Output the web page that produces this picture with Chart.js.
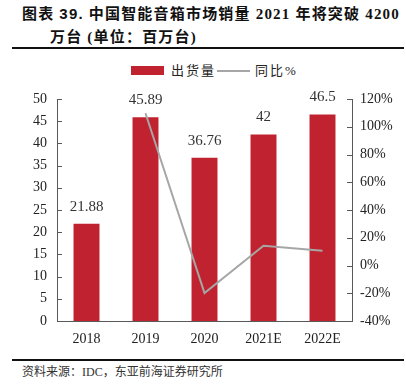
<!DOCTYPE html>
<html>
<head>
<meta charset="utf-8">
<script src="https://cdn.jsdelivr.net/npm/chart.js@4.4.0/dist/chart.umd.min.js"></script>
<style>
  html, body { margin: 0; padding: 0; background: #fff; }
  body { width: 406px; height: 388px; position: relative; overflow: hidden; }
  .title {
    position: absolute; left: 22px; font-weight: bold; font-size: 15px; line-height: 22px;
    font-family: 'Liberation Serif', 'Noto Sans CJK SC', serif; color: #111; white-space: nowrap;
    letter-spacing: 1.2px;
  }
  .title .num { font-family: 'Liberation Sans', sans-serif; }
  .rule { position: absolute; left: 12px; right: 2px; background: #111; }
  .legend { position: absolute; font-family: 'Liberation Serif', 'Noto Sans CJK SC', serif; font-size: 13px; color: #222; letter-spacing: 2px; line-height: 16px; }
  .swatch { position: absolute; }
  #source { position: absolute; left: 22px; top: 364px; font-size: 12px; line-height: 16px; color: #333;
    font-family: 'Liberation Serif', 'Noto Sans CJK SC', serif; white-space: nowrap; }
  #chartBox { position: absolute; left: 0; top: 80px; width: 406px; height: 272px; }
</style>
</head>
<body>
<div class="title" style="top:3px;">图表 <span class="num">39.</span> 中国智能音箱市场销量 2021 年将突破 4200</div>
<div class="title" style="top:26px; left:50px;">万台 (单位：百万台)</div>
<div class="rule" style="top:47px; height:2px;"></div>

<div class="swatch" style="left:131px; top:66px; width:33px; height:9px; background:#C0232F;"></div>
<div class="legend" style="left:171px; top:63px;">出货量</div>
<div class="swatch" style="left:217px; top:70px; width:33px; height:1.5px; background:#A6A6A6;"></div>
<div class="legend" style="left:255px; top:63px;">同比%</div>

<div id="chartBox"><canvas id="salesChart"></canvas></div>

<div class="rule" style="top:359px; height:1.5px;"></div>
<div id="source">资料来源：IDC，东亚前海证券研究所</div>

<script>
const years = ['2018', '2019', '2020', '2021E', '2022E'];
const shipments = [21.88, 45.89, 36.76, 42, 46.5];      // 百万台
const yoyGrowth = [null, 109.7, -19.9, 14.3, 10.7];      // %

const barRed = '#C0232F';
const lineGray = '#A6A6A6';
const axisColor = '#595959';
const tickFont = { family: "'Liberation Serif', 'Times New Roman', serif", size: 14 };

// 柱子上方的数值标签
const barLabels = {
    id: 'barLabels',
    afterDatasetsDraw(chart) {
        const ctx = chart.ctx;
        const meta = chart.getDatasetMeta(0);
        ctx.save();
        ctx.font = "15px 'Liberation Serif', serif";
        ctx.fillStyle = '#333';
        ctx.textAlign = 'center';
        ctx.textBaseline = 'middle';
        meta.data.forEach((bar, i) => {
            ctx.fillText(String(shipments[i]), bar.x, bar.y - 17);
        });
        ctx.restore();
    }
};

// 坐标轴内侧刻度线
const innerTicks = {
    id: 'innerTicks',
    afterDraw(chart) {
        const ctx = chart.ctx;
        const { left, right } = chart.chartArea;
        ctx.save();
        ctx.strokeStyle = axisColor;
        ctx.lineWidth = 1;
        ctx.beginPath();
        chart.scales.y.ticks.forEach(t => {
            const py = Math.round(chart.scales.y.getPixelForValue(t.value)) + 0.5;
            ctx.moveTo(left, py);
            ctx.lineTo(left + 5, py);
        });
        chart.scales.y1.ticks.forEach(t => {
            const py = Math.round(chart.scales.y1.getPixelForValue(t.value)) + 0.5;
            ctx.moveTo(right, py);
            ctx.lineTo(right - 5, py);
        });
        ctx.stroke();
        ctx.restore();
    }
};

const ctx = document.getElementById('salesChart').getContext('2d');
new Chart(ctx, {
    data: {
        labels: years,
        datasets: [
            {
                type: 'bar',
                label: '出货量',
                data: shipments,
                backgroundColor: barRed,
                yAxisID: 'y',
                barPercentage: 0.44,
                categoryPercentage: 1,
                order: 1,
            },
            {
                type: 'line',
                label: '同比%',
                data: yoyGrowth,
                borderColor: lineGray,
                borderWidth: 2,
                pointRadius: 0,
                tension: 0,
                yAxisID: 'y1',
                order: 0,
            },
        ],
    },
    options: {
        responsive: true,
        maintainAspectRatio: false,
        animation: false,
        layout: { padding: { top: 19, left: 0, right: 0, bottom: 0 } },
        plugins: { legend: { display: false }, tooltip: { enabled: false } },
        scales: {
            x: {
                grid: { display: false, drawTicks: false },
                border: { color: axisColor, width: 1 },
                ticks: { font: tickFont, color: '#222', padding: 10 },
                afterFit: scale => { scale.height = 31; },
            },
            y: {
                position: 'left',
                min: 0,
                max: 50,
                grid: { display: false, drawTicks: false },
                border: { color: axisColor, width: 1 },
                ticks: { stepSize: 5, font: tickFont, color: '#222', padding: 10 },
                afterFit: scale => { scale.width = 57; },
            },
            y1: {
                position: 'right',
                min: -40,
                max: 120,
                grid: { display: false, drawTicks: false },
                border: { color: axisColor, width: 1 },
                ticks: { stepSize: 20, font: tickFont, color: '#222', padding: 8, callback: v => v + '%' },
                afterFit: scale => { scale.width = 54; },
            },
        },
    },
    plugins: [barLabels, innerTicks],
});
</script>
</body>
</html>
